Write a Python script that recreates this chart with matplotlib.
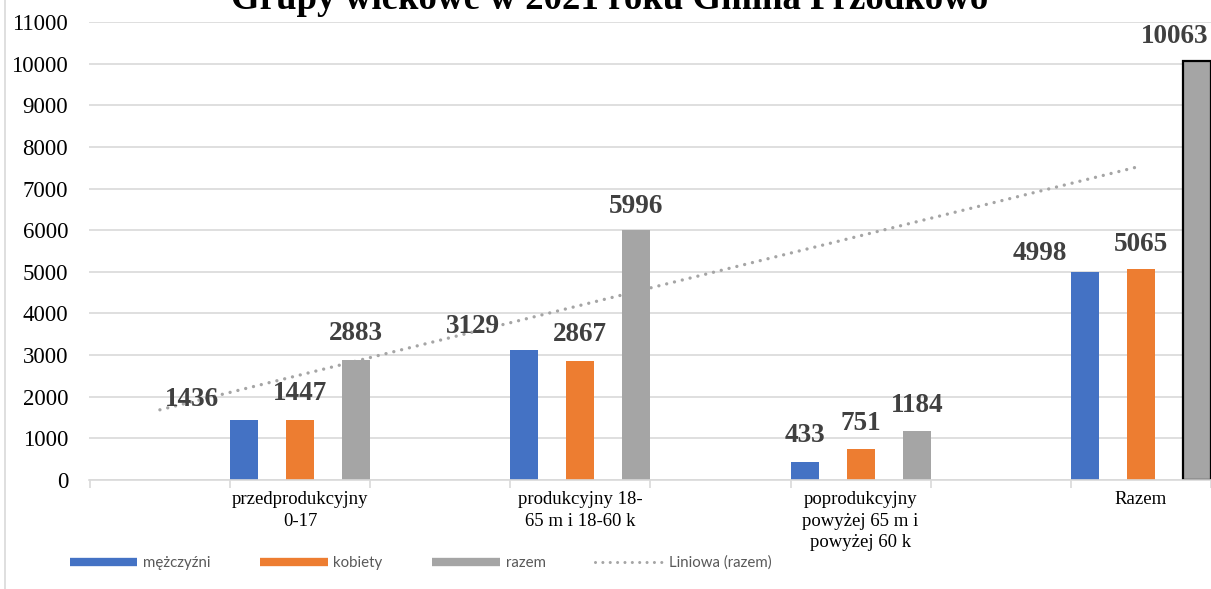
import numpy as np
import matplotlib
matplotlib.use("Agg")
import matplotlib.pyplot as plt
from matplotlib.lines import Line2D

# dane
kategorie = ["przedprodukcyjny\n0-17", "produkcyjny 18-\n65 m i 18-60 k",
             "poprodukcyjny\npowyżej 65 m i\npowyżej 60 k", "Razem"]
mezczyzni = [1436, 3129, 433, 4998]
kobiety = [1447, 2867, 751, 5065]
razem = [2883, 5996, 1184, 10063]
y_ticks = list(range(0, 11001, 1000))

niebieski = "#4472c4"
pomarancz = "#ed7d31"
szary = "#a5a5a5"
siatka = "#d9d9d9"
etykieta = "#404040"

# przesuniecia etykiet (piksele)
shift_m = [(-52, 21), (-51, 23), (0, 26), (-45, 18)]
shift_k = [(0, 26), (0, 26), (0, 25), (0, 25)]
shift_r = [(0, 26), (0, 24), (0, 25), (-22, 25)]

plt.rcParams['font.family'] = ['Liberation Serif', 'DejaVu Serif']

fig = plt.figure(figsize=(12.11, 5.89), dpi=100)
ax = fig.add_axes([89/1211, 1-480/589, 1-89/1211, (480-22)/589])

x = np.arange(len(kategorie))
w = 0.1
b1 = ax.bar(x - 0.2, mezczyzni, w, color=niebieski, zorder=3)
b2 = ax.bar(x, kobiety, w, color=pomarancz, zorder=3)
b3 = ax.bar(x + 0.2, razem, w, color=szary, zorder=3)
# ostatni slupek zaznaczony
b3[-1].set_edgecolor("black")
b3[-1].set_linewidth(1.6)

# linia trendu
fit = np.polyfit(np.arange(1, 5), razem, 1)
fx = np.array([0.5, 4.0])
ax.plot(fx - 1, np.polyval(fit, fx), color=szary, lw=2.4,
        linestyle=(0, (0.01, 2.4)), dash_capstyle='round', zorder=4)

for bars, vals, sh in [(b1, mezczyzni, shift_m), (b2, kobiety, shift_k), (b3, razem, shift_r)]:
    for b, v, s in zip(bars, vals, sh):
        ax.annotate(str(v), (b.get_x() + b.get_width()/2, v), xytext=s,
                    textcoords='offset pixels', ha='center', va='center',
                    fontsize=19.5, fontweight='bold', color=etykieta,
                    annotation_clip=False, zorder=5)

ax.set_xlim(-0.753, (1211-301)/281.5)
ax.set_ylim(0, 11000)
ax.set_yticks(y_ticks)
ax.set_yticklabels([str(t) for t in y_ticks], fontsize=16.5)
ax.tick_params(axis='y', length=0, pad=15)
ax.set_xticks(x)
ax.set_xticklabels(kategorie, fontsize=13.5, linespacing=1.35, va='top')
ax.set_xticks(np.arange(-0.75, 3.3, 0.5), minor=True)
ax.tick_params(axis='x', which='major', length=0, pad=8)
ax.tick_params(axis='x', which='minor', length=6, color=siatka, width=1.2)
ax.grid(axis='y', color=siatka, lw=1.2, zorder=0)
for s in ['top', 'right', 'left']:
    ax.spines[s].set_visible(False)
ax.spines['bottom'].set_color(siatka)
ax.spines['bottom'].set_linewidth(1.2)
ax.spines['bottom'].set_zorder(6)

fig.text(0.503, 1 - 9/589, "Grupy wiekowe w 2021 roku Gmina Przodkowo",
         ha='center', va='baseline', fontsize=26.6, fontweight='bold')

# ramka wykresu po lewej
fig.add_artist(Line2D([5/1211, 5/1211], [0, 1], color=siatka, lw=1.2))

handles = [Line2D([], [], color=niebieski, lw=6, solid_capstyle='butt'),
           Line2D([], [], color=pomarancz, lw=6, solid_capstyle='butt'),
           Line2D([], [], color=szary, lw=6, solid_capstyle='butt'),
           Line2D([], [], color=szary, lw=2.2, linestyle=(0, (0.01, 2.4)),
                  dash_capstyle='round')]
leg = fig.legend(handles, ["mężczyźni", "kobiety", "razem", "Liniowa (razem)"],
                 loc='center left', bbox_to_anchor=(56/1211, 1 - 563/589),
                 ncol=4, frameon=False, handlelength=4.5, handletextpad=0.4,
                 columnspacing=3.3, prop={'family': ['Lato', 'DejaVu Sans'], 'size': 10.8})
for t in leg.get_texts():
    t.set_color("#595959")

fig.savefig("out.png", dpi=100)
